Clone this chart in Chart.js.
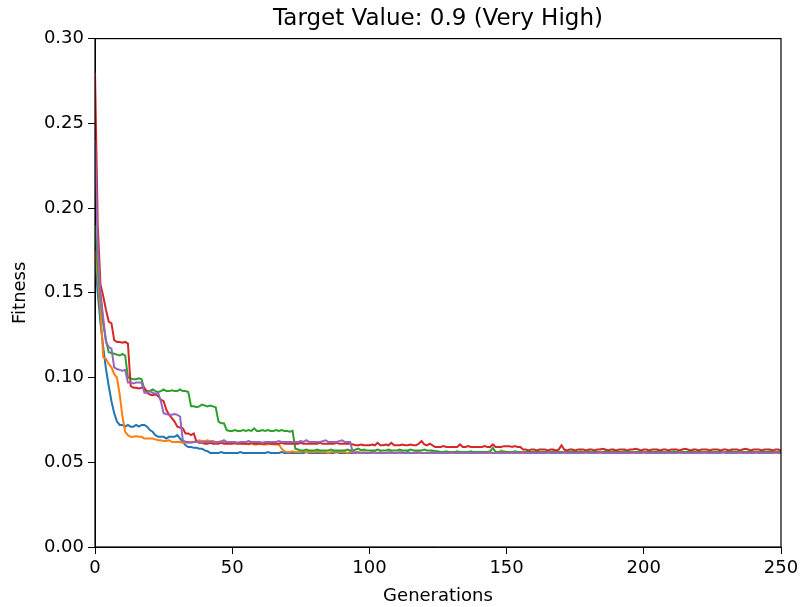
<!DOCTYPE html>
<html>
<head>
<meta charset="utf-8">
<script src="https://cdn.jsdelivr.net/npm/chart.js@4.4.1/dist/chart.umd.min.js"></script>
<style>
  html, body { margin: 0; padding: 0; background: #fff; }
  #wrap { width: 801px; height: 607px; }
</style>
</head>
<body>
<div id="wrap"><canvas id="fitness" width="801" height="607"></canvas></div>
<script>
// best fitness per generation, one array per run
const run1 = [
  0.170, 0.150, 0.132, 0.118, 0.105, 0.095, 0.086, 0.079, 0.074, 0.072,
  0.072, 0.071, 0.072, 0.071, 0.071, 0.072, 0.071, 0.072, 0.072, 0.071,
  0.069, 0.068, 0.066, 0.065, 0.065, 0.065, 0.064, 0.065, 0.065, 0.065,
  0.066, 0.064, 0.062, 0.060, 0.059, 0.059, 0.0585, 0.0585, 0.058, 0.058,
  0.057, 0.0565, 0.0555, 0.0555, 0.0555, 0.0555, 0.056, 0.0555, 0.0555, 0.0555,
  0.0555, 0.0555, 0.0555, 0.056, 0.0555, 0.0555, 0.0555, 0.0555, 0.0555, 0.0555,
  0.0555, 0.0555, 0.0555, 0.056, 0.0555, 0.0555, 0.0555, 0.0555, 0.056, 0.0555,
  0.0555, 0.0555, 0.0555, 0.0555, 0.0555, 0.0555, 0.0555, 0.056, 0.0555, 0.0555,
  0.0555, 0.0555, 0.0555, 0.0555, 0.0555, 0.0555, 0.0555, 0.0555, 0.056, 0.0555,
  0.0555, 0.0555, 0.0555, 0.0555, 0.0555, 0.056, 0.0555, 0.0555, 0.0555, 0.0555,
  0.0555, 0.056, 0.0555, 0.0555, 0.0555, 0.0555, 0.0555, 0.0555, 0.0555, 0.0555,
  0.0555, 0.0555, 0.0555, 0.0555, 0.056, 0.0555, 0.0555, 0.0555, 0.0555, 0.0555,
  0.0555, 0.0555, 0.0555, 0.0555, 0.0555, 0.0555, 0.0555, 0.0555, 0.056, 0.0555,
  0.0555, 0.0555, 0.0555, 0.0555, 0.0555, 0.0555, 0.0555, 0.0555, 0.0555, 0.0555,
  0.0555, 0.0555, 0.0555, 0.0555, 0.0555, 0.0555, 0.0555, 0.056, 0.0555, 0.0555,
  0.0555, 0.0555, 0.0555, 0.0555, 0.0555, 0.0555, 0.056, 0.0555, 0.0555, 0.0555,
  0.0555, 0.0555, 0.0555, 0.0555, 0.0555, 0.0555, 0.0555, 0.0555, 0.0555, 0.0555,
  0.0555, 0.0555, 0.056, 0.0555, 0.0555, 0.0555, 0.0555, 0.0555, 0.0555, 0.0555,
  0.0555, 0.0555, 0.0555, 0.0555, 0.0555, 0.0555, 0.0555, 0.0555, 0.056, 0.0555,
  0.0555, 0.0555, 0.0555, 0.0555, 0.0555, 0.0555, 0.0555, 0.0555, 0.0555, 0.0555,
  0.0555, 0.0555, 0.0555, 0.0555, 0.0555, 0.056, 0.0555, 0.0555, 0.0555, 0.0555,
  0.0555, 0.0555, 0.0555, 0.0555, 0.0555, 0.0555, 0.0555, 0.0555, 0.0555, 0.0555,
  0.0555, 0.0555, 0.0555, 0.0555, 0.0555, 0.0555, 0.0555, 0.0555, 0.0555, 0.056,
  0.0555, 0.0555, 0.0555, 0.0555, 0.0555, 0.0555, 0.0555, 0.0555, 0.0555, 0.0555,
  0.0555, 0.0555, 0.0555, 0.0555, 0.0555, 0.0555, 0.0555, 0.0555, 0.0555, 0.0555,
  0.0555
];

const run2 = [
  0.175, 0.160, 0.140, 0.112, 0.111, 0.108, 0.106, 0.102, 0.100, 0.090,
  0.077, 0.068, 0.066, 0.065, 0.065, 0.0655, 0.065, 0.065, 0.064, 0.064,
  0.064, 0.064, 0.0635, 0.063, 0.063, 0.0625, 0.0625, 0.063, 0.062, 0.062,
  0.062, 0.062, 0.0615, 0.0615, 0.0615, 0.062, 0.062, 0.0625, 0.063, 0.0625,
  0.0625, 0.063, 0.0625, 0.0625, 0.062, 0.062, 0.0625, 0.062, 0.062, 0.0615,
  0.0615, 0.061, 0.061, 0.0615, 0.061, 0.061, 0.0605, 0.061, 0.0605, 0.0605,
  0.061, 0.0605, 0.0605, 0.0605, 0.061, 0.0605, 0.0605, 0.0605, 0.058, 0.0565,
  0.056, 0.056, 0.0565, 0.056, 0.056, 0.056, 0.0565, 0.056, 0.056, 0.056,
  0.056, 0.0565, 0.056, 0.056, 0.056, 0.0555, 0.056, 0.056, 0.0565, 0.056,
  0.056, 0.056, 0.0555, 0.056, 0.056, 0.056, 0.0555, 0.0555, 0.056, 0.0555,
  0.0555, 0.056, 0.0555, 0.0555, 0.056, 0.0555, 0.0555, 0.0555, 0.056, 0.0555,
  0.0555, 0.0555, 0.056, 0.0555, 0.0555, 0.0555, 0.0555, 0.056, 0.0555, 0.0555,
  0.0555, 0.0555, 0.0555, 0.056, 0.0555, 0.0555, 0.0555, 0.0555, 0.0555, 0.056,
  0.0555, 0.0555, 0.0555, 0.0555, 0.0555, 0.056, 0.0555, 0.0555, 0.0555, 0.0555,
  0.0555, 0.056, 0.0555, 0.0555, 0.0555, 0.0555, 0.0555, 0.0555, 0.057, 0.0555,
  0.0555, 0.0555, 0.0555, 0.056, 0.0555, 0.0555, 0.0555, 0.0555, 0.0555, 0.0555,
  0.0555, 0.0555, 0.0555, 0.0555, 0.056, 0.0555, 0.0555, 0.0555, 0.0555, 0.0555,
  0.0555, 0.0555, 0.0555, 0.0555, 0.0555, 0.0555, 0.0555, 0.0565, 0.0555, 0.0555,
  0.0555, 0.056, 0.0555, 0.0555, 0.0555, 0.0555, 0.0555, 0.0555, 0.0555, 0.057,
  0.0555, 0.0555, 0.0555, 0.0555, 0.0555, 0.056, 0.0555, 0.0555, 0.0555, 0.0555,
  0.0555, 0.0555, 0.0565, 0.0555, 0.0555, 0.0555, 0.0555, 0.0555, 0.056, 0.0555,
  0.0555, 0.0555, 0.0555, 0.0555, 0.0555, 0.0555, 0.056, 0.0555, 0.0555, 0.0555,
  0.0555, 0.0555, 0.0555, 0.0555, 0.0555, 0.0555, 0.0555, 0.0555, 0.0555, 0.056,
  0.0555, 0.0555, 0.0555, 0.0555, 0.0555, 0.0555, 0.0555, 0.0555, 0.0555, 0.0555,
  0.0555, 0.0555, 0.056, 0.0555, 0.0555, 0.0555, 0.0555, 0.0555, 0.0555, 0.0555,
  0.0555
];

const run3 = [
  0.190, 0.165, 0.148, 0.132, 0.122, 0.115, 0.1145, 0.114, 0.1135, 0.113,
  0.114, 0.113, 0.100, 0.0995, 0.099, 0.099, 0.0995, 0.099, 0.093, 0.092,
  0.092, 0.093, 0.092, 0.0915, 0.092, 0.093, 0.092, 0.092, 0.0925, 0.092,
  0.092, 0.093, 0.092, 0.092, 0.0915, 0.083, 0.083, 0.0825, 0.083, 0.084,
  0.0835, 0.083, 0.0835, 0.083, 0.0825, 0.074, 0.073, 0.073, 0.069, 0.0685,
  0.0685, 0.069, 0.0685, 0.0685, 0.069, 0.0685, 0.069, 0.0685, 0.070, 0.0685,
  0.0685, 0.069, 0.0685, 0.069, 0.0685, 0.0685, 0.069, 0.0685, 0.069, 0.0685,
  0.0685, 0.068, 0.0685, 0.058, 0.0575, 0.057, 0.057, 0.0575, 0.057, 0.057,
  0.057, 0.0575, 0.057, 0.057, 0.057, 0.057, 0.0575, 0.057, 0.057, 0.057,
  0.057, 0.057, 0.0575, 0.057, 0.057, 0.0575, 0.058, 0.057, 0.0575, 0.057,
  0.057, 0.057, 0.057, 0.0575, 0.057, 0.057, 0.057, 0.0575, 0.057, 0.057,
  0.057, 0.0575, 0.057, 0.057, 0.057, 0.0575, 0.057, 0.057, 0.057, 0.057,
  0.0575, 0.057, 0.057, 0.057, 0.0565, 0.0565, 0.056, 0.056, 0.0565, 0.056,
  0.056, 0.056, 0.0565, 0.056, 0.056, 0.056, 0.056, 0.0565, 0.056, 0.056,
  0.056, 0.056, 0.056, 0.056, 0.0565, 0.0585, 0.056, 0.056, 0.056, 0.0565,
  0.056, 0.056, 0.056, 0.0565, 0.056, 0.056, 0.056, 0.056, 0.0565, 0.056,
  0.056, 0.0565, 0.056, 0.056, 0.056, 0.056, 0.056, 0.0565, 0.056, 0.056,
  0.056, 0.056, 0.056, 0.056, 0.0565, 0.056, 0.056, 0.056, 0.056, 0.056,
  0.0565, 0.056, 0.056, 0.056, 0.056, 0.056, 0.0565, 0.056, 0.056, 0.056,
  0.056, 0.056, 0.056, 0.0565, 0.056, 0.056, 0.056, 0.056, 0.056, 0.0565,
  0.056, 0.056, 0.056, 0.056, 0.056, 0.0565, 0.056, 0.056, 0.056, 0.056,
  0.056, 0.0565, 0.056, 0.056, 0.056, 0.056, 0.056, 0.056, 0.0565, 0.056,
  0.056, 0.056, 0.056, 0.056, 0.0565, 0.056, 0.056, 0.056, 0.056, 0.056,
  0.056, 0.056, 0.0565, 0.056, 0.056, 0.056, 0.056, 0.056, 0.056, 0.0565,
  0.056, 0.056, 0.056, 0.056, 0.056, 0.056, 0.0565, 0.056, 0.056, 0.056,
  0.056
];

const run4 = [
  0.280, 0.190, 0.155, 0.148, 0.140, 0.133, 0.132, 0.122, 0.121, 0.121,
  0.1205, 0.121, 0.120, 0.095, 0.094, 0.094, 0.0935, 0.094, 0.094, 0.091,
  0.090, 0.0895, 0.090, 0.089, 0.087, 0.086, 0.081, 0.078, 0.076, 0.074,
  0.071, 0.0705, 0.070, 0.067, 0.067, 0.066, 0.067, 0.062, 0.0615, 0.0615,
  0.061, 0.061, 0.0615, 0.061, 0.061, 0.061, 0.0615, 0.061, 0.061, 0.061,
  0.061, 0.0615, 0.061, 0.061, 0.061, 0.061, 0.061, 0.0615, 0.061, 0.061,
  0.061, 0.061, 0.061, 0.0615, 0.061, 0.061, 0.061, 0.061, 0.0615, 0.061,
  0.061, 0.061, 0.061, 0.061, 0.061, 0.0615, 0.061, 0.061, 0.061, 0.061,
  0.061, 0.061, 0.0615, 0.061, 0.061, 0.061, 0.061, 0.061, 0.0615, 0.061,
  0.061, 0.061, 0.061, 0.061, 0.0605, 0.060, 0.060, 0.0605, 0.060, 0.060,
  0.060, 0.0605, 0.060, 0.0615, 0.060, 0.060, 0.0605, 0.060, 0.0615, 0.060,
  0.060, 0.060, 0.0605, 0.060, 0.060, 0.0605, 0.060, 0.060, 0.061, 0.0625,
  0.0605, 0.060, 0.061, 0.060, 0.059, 0.059, 0.059, 0.0595, 0.059, 0.059,
  0.059, 0.059, 0.059, 0.0605, 0.059, 0.059, 0.0595, 0.059, 0.059, 0.059,
  0.059, 0.059, 0.0595, 0.059, 0.059, 0.0605, 0.059, 0.059, 0.059, 0.0595,
  0.0595, 0.0595, 0.059, 0.0595, 0.059, 0.059, 0.0575, 0.0575, 0.057, 0.0575,
  0.0575, 0.057, 0.0575, 0.0575, 0.0575, 0.057, 0.0575, 0.0575, 0.057, 0.0575,
  0.060, 0.0575, 0.057, 0.0575, 0.0575, 0.057, 0.0575, 0.0575, 0.0575, 0.057,
  0.0575, 0.0575, 0.057, 0.0575, 0.0575, 0.058, 0.0575, 0.057, 0.0575, 0.0575,
  0.057, 0.0575, 0.0575, 0.0575, 0.057, 0.0575, 0.0575, 0.058, 0.0575, 0.057,
  0.0575, 0.0575, 0.057, 0.0575, 0.0575, 0.0575, 0.057, 0.0575, 0.0575, 0.057,
  0.0575, 0.0575, 0.0575, 0.057, 0.0575, 0.058, 0.0575, 0.057, 0.0575, 0.0575,
  0.057, 0.0575, 0.0575, 0.0575, 0.057, 0.0575, 0.0575, 0.0575, 0.057, 0.0575,
  0.0575, 0.057, 0.0575, 0.0575, 0.0575, 0.057, 0.0575, 0.058, 0.0575, 0.057,
  0.0575, 0.0575, 0.0575, 0.057, 0.0575, 0.0575, 0.0575, 0.057, 0.0575, 0.0575,
  0.057
];

const run5 = [
  0.240, 0.175, 0.150, 0.135, 0.121, 0.118, 0.117, 0.106, 0.105, 0.1045,
  0.104, 0.1045, 0.097, 0.097, 0.0965, 0.097, 0.097, 0.097, 0.091, 0.091,
  0.092, 0.091, 0.0905, 0.091, 0.086, 0.079, 0.0785, 0.078, 0.078, 0.0785,
  0.078, 0.077, 0.063, 0.062, 0.062, 0.0615, 0.062, 0.062, 0.062, 0.0615,
  0.062, 0.062, 0.062, 0.062, 0.0615, 0.062, 0.062, 0.063, 0.062, 0.062,
  0.062, 0.062, 0.0615, 0.062, 0.062, 0.062, 0.0625, 0.062, 0.062, 0.062,
  0.062, 0.0615, 0.062, 0.062, 0.062, 0.062, 0.062, 0.0625, 0.062, 0.062,
  0.062, 0.062, 0.062, 0.062, 0.062, 0.0625, 0.062, 0.063, 0.062, 0.062,
  0.062, 0.062, 0.062, 0.0625, 0.063, 0.062, 0.062, 0.062, 0.062, 0.0625,
  0.063, 0.062, 0.062, 0.062, 0.0555, 0.0555, 0.056, 0.0555, 0.0555, 0.0555,
  0.0555, 0.0555, 0.056, 0.0555, 0.0555, 0.0555, 0.0555, 0.056, 0.0555, 0.0555,
  0.0555, 0.056, 0.0555, 0.0555, 0.0555, 0.0555, 0.0555, 0.0555, 0.056, 0.0555,
  0.0555, 0.0555, 0.0555, 0.056, 0.0555, 0.0555, 0.0555, 0.0555, 0.0555, 0.0555,
  0.056, 0.0555, 0.0555, 0.0555, 0.0555, 0.056, 0.0555, 0.0555, 0.0555, 0.0555,
  0.0555, 0.0555, 0.0555, 0.0555, 0.056, 0.0555, 0.0555, 0.0555, 0.0555, 0.0555,
  0.0555, 0.0555, 0.056, 0.0555, 0.0555, 0.0555, 0.056, 0.0555, 0.0555, 0.0555,
  0.0555, 0.0555, 0.0555, 0.0555, 0.0555, 0.056, 0.0555, 0.0555, 0.0555, 0.0555,
  0.0555, 0.056, 0.0555, 0.0555, 0.0555, 0.0555, 0.0555, 0.0555, 0.0555, 0.056,
  0.0555, 0.0555, 0.0555, 0.0555, 0.056, 0.0555, 0.0555, 0.0555, 0.0555, 0.0555,
  0.0555, 0.0555, 0.0555, 0.0555, 0.0555, 0.0555, 0.056, 0.0555, 0.0555, 0.0555,
  0.056, 0.0555, 0.0555, 0.0555, 0.0555, 0.0555, 0.0555, 0.0555, 0.056, 0.0555,
  0.0555, 0.0555, 0.0555, 0.056, 0.0555, 0.0555, 0.0555, 0.0555, 0.0555, 0.0555,
  0.0555, 0.0555, 0.056, 0.0555, 0.0555, 0.0555, 0.0555, 0.0555, 0.0555, 0.056,
  0.0555, 0.0555, 0.0555, 0.0555, 0.0555, 0.056, 0.0555, 0.0555, 0.0555, 0.0555,
  0.0555, 0.056, 0.0555, 0.0555, 0.0555, 0.0555, 0.0555, 0.0555, 0.056, 0.0555,
  0.0555
];

const generations = run1.map((_, i) => i);
const xTicks = [0, 50, 100, 150, 200, 250];
const yTicks = [0, 0.05, 0.10, 0.15, 0.20, 0.25, 0.30];

const runs = [
  { values: run1, color: '#1f77b4' },
  { values: run2, color: '#ff7f0e' },
  { values: run3, color: '#2ca02c' },
  { values: run4, color: '#d62728' },
  { values: run5, color: '#9467bd' }
];

const FONT = 'DejaVu Sans';

// matplotlib-style box around the axes
const axesFrame = {
  id: 'axesFrame',
  afterDatasetsDraw(chart) {
    const { ctx, chartArea: a } = chart;
    ctx.save();
    ctx.strokeStyle = '#000';
    ctx.lineWidth = 1.2;
    ctx.strokeRect(a.left, a.top, a.right - a.left, a.bottom - a.top);
    ctx.restore();
  }
};

const ctx = document.getElementById('fitness').getContext('2d');
new Chart(ctx, {
  type: 'line',
  data: {
    datasets: runs.map((run, k) => ({
      data: run.values.map((v, i) => ({ x: generations[i], y: v })),
      borderColor: run.color,
      borderWidth: 2,
      pointRadius: 0,
      tension: 0,
      fill: false,
      order: runs.length - k
    }))
  },
  options: {
    responsive: false,
    animation: false,
    events: [],
    layout: { padding: { left: 0, right: 20, top: 0, bottom: 0 } },
    plugins: {
      legend: { display: false },
      tooltip: { enabled: false },
      title: {
        display: true,
        fullSize: false,
        text: 'Target Value: 0.9 (Very High)',
        color: '#000',
        font: { family: FONT, size: 23, weight: 'normal' },
        padding: { top: 5, bottom: 6 }
      }
    },
    scales: {
      x: {
        type: 'linear',
        min: 0,
        max: 250,
        afterBuildTicks: (scale) => { scale.ticks = xTicks.map(v => ({ value: v })); },
        afterFit: (scale) => { scale.height = 60; scale.paddingLeft = 0; scale.paddingRight = 0; },
        grid: { display: true, drawOnChartArea: false, drawTicks: true, tickLength: 7, color: '#000', lineWidth: 1 },
        border: { display: true, color: '#000', width: 1 },
        ticks: { color: '#000', font: { family: FONT, size: 18 }, padding: 4, maxRotation: 0 },
        title: { display: true, text: 'Generations', color: '#000', font: { family: FONT, size: 18 }, padding: { top: 0, bottom: 0 } }
      },
      y: {
        type: 'linear',
        min: 0,
        max: 0.3,
        afterBuildTicks: (scale) => { scale.ticks = yTicks.map(v => ({ value: v })); },
        afterFit: (scale) => { scale.width = 95; scale.paddingTop = 0; scale.paddingBottom = 0; },
        grid: { display: true, drawOnChartArea: false, drawTicks: true, tickLength: 7, color: '#000', lineWidth: 1 },
        border: { display: true, color: '#000', width: 1 },
        ticks: {
          color: '#000',
          font: { family: FONT, size: 18 },
          padding: 4,
          callback: (v) => v.toFixed(2)
        },
        title: { display: true, text: 'Fitness', color: '#000', font: { family: FONT, size: 18 }, padding: { top: 10, bottom: 0 } }
      }
    }
  },
  plugins: [axesFrame]
});
</script>
</body>
</html>
